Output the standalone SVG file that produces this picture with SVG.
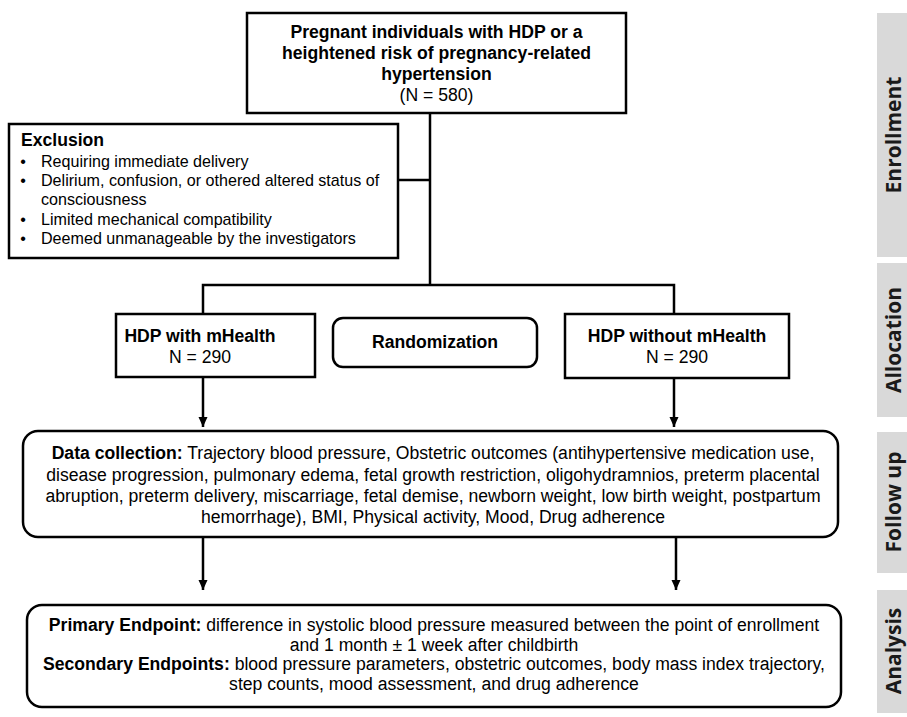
<svg xmlns="http://www.w3.org/2000/svg" width="907" height="717" viewBox="0 0 907 717">
<defs>
<style>
.box{fill:#fff;stroke:#000;stroke-width:2.5}
.side{fill:#d9d9d9}
.t{font-family:"Liberation Sans",Arial,sans-serif;font-size:17.6px;fill:#000}
.b{font-weight:bold}
.ex{font-size:16.1px}
.lab{font-family:"Open Sans",sans-serif;font-weight:bold;font-size:21px;fill:#1a1a1a}
.ln{fill:none;stroke:#000;stroke-width:2.5}
</style>
<marker id="ah" markerUnits="userSpaceOnUse" markerWidth="10" markerHeight="10" refX="10" refY="4.5" orient="auto">
<path d="M0,0 L10,4.5 L0,9 z" fill="#000"/>
</marker>
</defs>
<rect width="907" height="717" fill="#fff"/>

<g id="side-labels">
<rect class="side" x="877" y="13" width="30" height="244"/>
<rect class="side" x="877" y="263" width="30" height="154"/>
<rect class="side" x="877" y="432" width="30" height="141"/>
<rect class="side" x="877" y="590" width="30" height="123"/>
<text class="lab" text-anchor="middle" transform="translate(901,135) rotate(-90)">Enrollment</text>
<text class="lab" text-anchor="middle" transform="translate(901,340) rotate(-90)">Allocation</text>
<text class="lab" text-anchor="middle" transform="translate(901,502) rotate(-90)">Follow up</text>
<text class="lab" text-anchor="middle" transform="translate(901,651) rotate(-90)">Analysis</text>
</g>

<g id="connectors">
<path class="ln" d="M430,113 V285"/>
<path class="ln" d="M398,180 H430"/>
<path class="ln" d="M203,314 V285 H674 V314"/>
<path class="ln" d="M203,377 V427" marker-end="url(#ah)"/>
<path class="ln" d="M674,378 V427" marker-end="url(#ah)"/>
<path class="ln" d="M203,537 V590" marker-end="url(#ah)"/>
<path class="ln" d="M676,537 V590" marker-end="url(#ah)"/>
</g>

<g id="enrolled">
<rect class="box" x="247" y="13" width="379" height="100"/>
<text class="t b" text-anchor="middle" x="436.5" y="38">Pregnant individuals with HDP or a</text>
<text class="t b" text-anchor="middle" x="436.5" y="59">heightened risk of pregnancy-related</text>
<text class="t b" text-anchor="middle" x="436.5" y="80">hypertension</text>
<text class="t" text-anchor="middle" x="436.5" y="101">(N = 580)</text>
</g>

<g id="exclusion">
<rect class="box" x="9" y="124" width="389" height="134"/>
<text class="t b" x="21" y="146">Exclusion</text>
<g class="t ex">
<text x="23" y="167" text-anchor="middle">•</text><text x="41" y="167">Requiring immediate delivery</text>
<text x="23" y="186" text-anchor="middle">•</text><text x="41" y="186">Delirium, confusion, or othered altered status of</text>
<text x="41" y="205">consciousness</text>
<text x="23" y="225" text-anchor="middle">•</text><text x="41" y="225">Limited mechanical compatibility</text>
<text x="23" y="244" text-anchor="middle">•</text><text x="41" y="244">Deemed unmanageable by the investigators</text>
</g>
</g>

<g id="arm-mhealth">
<rect class="box" x="116" y="314" width="199" height="63"/>
<text class="t b" text-anchor="middle" x="200" y="342">HDP with mHealth</text>
<text class="t" text-anchor="middle" x="200" y="363">N = 290</text>
</g>

<g id="randomization">
<rect class="box" x="333" y="318" width="204" height="49" rx="10"/>
<text class="t b" text-anchor="middle" x="435" y="348">Randomization</text>
</g>

<g id="arm-control">
<rect class="box" x="565" y="314" width="224" height="64"/>
<text class="t b" text-anchor="middle" x="677" y="342">HDP without mHealth</text>
<text class="t" text-anchor="middle" x="677" y="363">N = 290</text>
</g>

<g id="data-collection">
<rect class="box" x="23" y="431" width="815" height="106" rx="15"/>
<text class="t" text-anchor="middle" x="433" y="459"><tspan class="b">Data collection:</tspan> Trajectory blood pressure, Obstetric outcomes (antihypertensive medication use,</text>
<text class="t" text-anchor="middle" x="433" y="481">disease progression, pulmonary edema, fetal growth restriction, oligohydramnios, preterm placental</text>
<text class="t" text-anchor="middle" x="433" y="502">abruption, preterm delivery, miscarriage, fetal demise, newborn weight, low birth weight, postpartum</text>
<text class="t" text-anchor="middle" x="433" y="523">hemorrhage), BMI, Physical activity, Mood, Drug adherence</text>
</g>

<g id="endpoints">
<rect class="box" x="27" y="605" width="814" height="102" rx="15"/>
<text class="t" text-anchor="middle" x="434" y="631"><tspan class="b">Primary Endpoint:</tspan> difference in systolic blood pressure measured between the point of enrollment</text>
<text class="t" text-anchor="middle" x="434" y="651">and 1 month ± 1 week after childbirth</text>
<text class="t" text-anchor="middle" x="434" y="670"><tspan class="b">Secondary Endpoints:</tspan> blood pressure parameters, obstetric outcomes, body mass index trajectory,</text>
<text class="t" text-anchor="middle" x="434" y="690">step counts, mood assessment, and drug adherence</text>
</g>
</svg>
